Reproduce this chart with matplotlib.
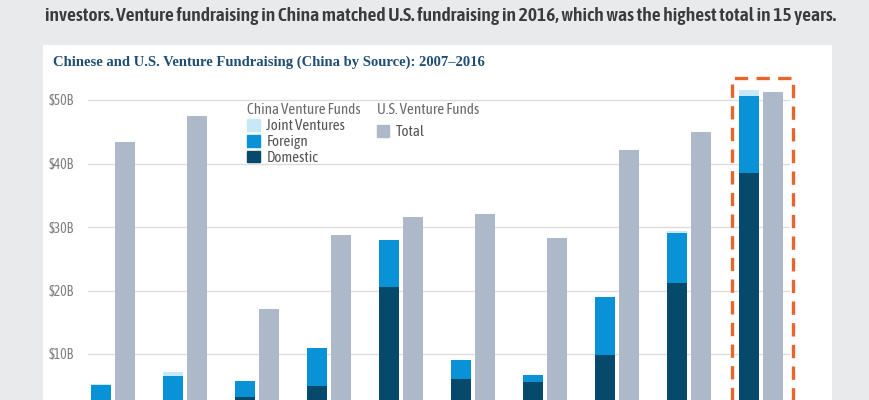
import matplotlib
matplotlib.use("Agg")
import matplotlib.pyplot as plt
from matplotlib.patches import Rectangle, Patch
import numpy as np

# China venture fundraising by source vs U.S. total ($B)
years = [2007, 2008, 2009, 2010, 2011, 2012, 2013, 2014, 2015, 2016]
domestic = [1.5, 1.0, 3.3, 5.0, 20.6, 6.0, 5.6, 9.9, 21.2, 38.5]
foreign = [3.6, 5.6, 2.45, 5.9, 7.35, 3.05, 1.1, 9.0, 7.9, 12.2]
joint = [0.2, 0.6, 0.0, 0.0, 0.0, 0.0, 0.0, 0.15, 0.3, 0.9]
us_total = [43.4, 47.5, 17.1, 28.7, 31.6, 32.0, 28.3, 42.2, 44.9, 51.3]
yticks = [10, 20, 30, 40, 50]
ytick_labels = ["$10B", "$20B", "$30B", "$40B", "$50B"]

c_dom = "#06496b"
c_for = "#0993d6"
c_jv = "#c8e8f8"
c_us = "#adb9c8"
c_orange = "#e8662c"
cond = ["Asap Condensed", "DejaVu Sans"]

W, H = 870, 400
fig = plt.figure(figsize=(W / 100, H / 100), dpi=100, facecolor="#e9eaec")

# white panel behind the chart
fig.patches.append(Rectangle((43 / W, 0), (832 - 43) / W, (H - 45) / H,
                             transform=fig.transFigure, facecolor="white",
                             edgecolor="none", zorder=-5))

fig.text(45 / W, 1 - 16 / H,
         "investors. Venture fundraising in China matched U.S. fundraising in 2016, "
         "which was the highest total in 15 years.",
         fontsize=14, fontweight="semibold", color="#3b3b3b", va="center",
         family=cond)
fig.text(53 / W, 1 - 62 / H,
         "Chinese and U.S. Venture Fundraising (China by Source): 2007\u20132016",
         fontsize=10.5, fontweight="bold", color="#1f4e74", va="center",
         family=["Liberation Serif", "DejaVu Serif"])

# axes placed so that zero sits just below the cropped bottom edge
y0, px10 = 417.5, 63.5
ytop = 53
ax_left, ax_right = 88, 790
ax = fig.add_axes([ax_left / W, (H - y0) / H, (ax_right - ax_left) / W,
                   ytop * px10 / 10 / H], zorder=2)
ax.set_facecolor("none")

x = np.arange(len(years))
bw = 20 / 72
off = 12 / 72
dom = np.array(domestic)
fo = np.array(foreign)
jv = np.array(joint)
ax.bar(x - off, dom, bw, color=c_dom, zorder=3)
ax.bar(x - off, fo, bw, bottom=dom, color=c_for, zorder=3)
ax.bar(x - off, jv, bw, bottom=dom + fo, color=c_jv, zorder=3)
ax.bar(x + off, us_total, bw, color=c_us, zorder=3)

ax.set_xlim(-25 / 72, len(years) - 1 + 29 / 72)
ax.set_ylim(0, ytop)
ax.set_yticks(yticks)
ax.set_yticklabels(ytick_labels)
ax.set_xticks([])
ax.grid(axis="y", color="#dcdcdc", linewidth=1, zorder=0)
ax.tick_params(axis="y", length=0, pad=10, labelsize=10, labelcolor="#808080")
for lab in ax.get_yticklabels():
    lab.set_family(cond)
for s in ax.spines.values():
    s.set_visible(False)

# dashed highlight around the last year
last = len(years) - 1
top = max(dom[last] + fo[last] + jv[last], us_total[last])
ax.add_patch(Rectangle((last - 0.40, -5), 0.845, top + 1.8 + 5, fill=False,
                       edgecolor=c_orange, linewidth=2.4, linestyle=(0, (4, 2.5)),
                       clip_on=False, zorder=4))

fnt = {"family": cond, "size": 10.8}
h_china = [Patch(color=c_jv), Patch(color=c_for), Patch(color=c_dom)]
leg1 = ax.legend(h_china, ["Joint Ventures", "Foreign", "Domestic"],
                 title="China Venture Funds", loc="upper left",
                 bbox_to_anchor=(240 / W, 1 - 96 / H), bbox_transform=fig.transFigure,
                 frameon=False, prop=fnt, handlelength=0.8, handleheight=0.8,
                 handletextpad=0.45, labelspacing=0.12, borderpad=0,
                 alignment="left", labelcolor="#555555")
leg1.get_title().set_color("#6a6a6a")
leg1.get_title().set_fontproperties(fnt)
ax.add_artist(leg1)
leg2 = ax.legend([Patch(color=c_us)], ["Total"], title="U.S. Venture Funds",
                 loc="upper left", bbox_to_anchor=(370 / W, 1 - 96 / H),
                 bbox_transform=fig.transFigure, frameon=False, prop=fnt,
                 handlelength=0.8, handleheight=0.8, handletextpad=0.45,
                 borderpad=0, alignment="left", labelcolor="#555555")
leg2.get_title().set_color("#6a6a6a")
leg2.get_title().set_fontproperties(fnt)

fig.savefig("out.png", dpi=100, facecolor=fig.get_facecolor())
